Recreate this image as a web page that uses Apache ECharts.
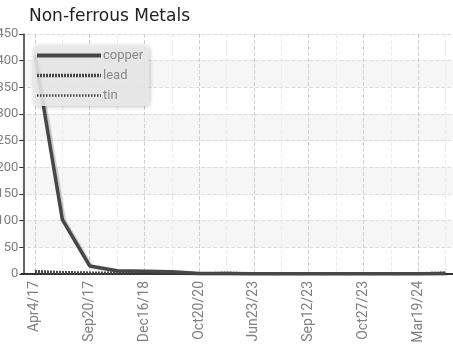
<!DOCTYPE html>
<html>
<head>
<meta charset="utf-8">
<script src="https://cdn.jsdelivr.net/npm/echarts@6/dist/echarts.min.js"></script>
<style>
  html, body { margin: 0; padding: 0; background: #fff; }
  #main { width: 453px; height: 347px; }
</style>
</head>
<body>
<div id="main"></div>
<script>
// dates on the x axis (only every other one is labelled)
var categories = ['Apr4/17', 'Jun12/17', 'Sep20/17', 'Mar3/18', 'Dec16/18', 'Sep9/19',
  'Oct20/20', 'Dec1/22', 'Jun23/23', 'Aug2/23', 'Sep12/23', 'Oct2/23',
  'Oct27/23', 'Jan10/24', 'Mar19/24', 'May29/24'];

var copper = [410, 102, 15, 6, 5, 4, 1, 1, 0.5, 0.5, 0.5, 0.5, 0.5, 0.5, 0.5, 1];
var lead = [5, 3, 2, 2, 2, 2, 1, 1, 0.5, 0.5, 0.5, 0.5, 0.5, 0.5, 0.5, 2];
var tin = [3, 2, 2, 1, 1, 1, 1, 3, 1, 0.5, 0.5, 0.5, 0.5, 0.5, 0.5, 2];

var lineColor = '#474747';
var narrow = 'Roboto, "Liberation Sans Narrow", sans-serif';

var chart = echarts.init(document.getElementById('main'));

var option = {
  animation: false,
  title: {
    text: 'Non-ferrous Metals',
    left: 24,
    top: 3,
    textStyle: {
      color: '#222',
      fontSize: 17,
      fontWeight: 'normal',
      fontFamily: '"DejaVu Sans", sans-serif'
    }
  },
  legend: {
    orient: 'vertical',
    left: 33,
    top: 45,
    z: 10,
    padding: [4, 6, 4, 2],
    itemWidth: 64,
    itemHeight: 10,
    itemGap: 7,
    backgroundColor: 'rgba(234,234,234,0.88)',
    borderRadius: 5,
    shadowColor: 'rgba(0,0,0,0.25)',
    shadowBlur: 4,
    shadowOffsetX: 1,
    shadowOffsetY: 1,
    itemStyle: { opacity: 0 },
    textStyle: { color: '#888', fontSize: 13, fontFamily: narrow, padding: [0, 0, 0, -3] },
    data: [
      { name: 'copper', lineStyle: { width: 4 } },
      { name: 'lead', lineStyle: { width: 3.5 } },
      { name: 'tin', lineStyle: { width: 2.5 } }
    ]
  },
  grid: {
    left: 21.3,
    right: -6.3,
    top: 34,
    bottom: 73,
    containLabel: false,
    outerBoundsMode: 'none'
  },
  xAxis: {
    type: 'category',
    data: categories,
    boundaryGap: true,
    axisLine: { lineStyle: { color: '#333', width: 2 } },
    axisTick: { interval: 1, alignWithLabel: true, length: 4, lineStyle: { color: '#555' } },
    axisLabel: {
      interval: 1,
      rotate: 90,
      margin: 7,
      color: '#808080',
      fontSize: 14,
      fontFamily: narrow
    },
    splitLine: {
      show: true,
      interval: 0,
      alignWithLabel: true,
      lineStyle: { type: 'dashed', color: ['#cfcfcf', '#ececec'] }
    }
  },
  yAxis: {
    type: 'value',
    min: 0,
    max: 450,
    interval: 50,
    offset: -2,
    axisLine: { show: true, lineStyle: { color: '#333', width: 1.5 } },
    axisTick: { show: true, length: 4, lineStyle: { color: '#333' } },
    axisLabel: { margin: 5, color: '#808080', fontSize: 13, fontFamily: narrow },
    splitLine: { lineStyle: { type: 'dashed', color: '#dcdcdc' } },
    splitArea: { show: true, areaStyle: { color: ['rgba(255,255,255,0)', '#f6f6f6'] } }
  },
  series: [
    {
      name: 'copper',
      type: 'line',
      data: copper,
      symbol: 'none',
      color: lineColor,
      lineStyle: {
        color: lineColor, width: 3.5,
        shadowColor: 'rgba(0,0,0,0.2)', shadowBlur: 1, shadowOffsetX: 2, shadowOffsetY: 1
      },
      z: 4
    },
    {
      name: 'lead',
      type: 'line',
      data: lead,
      symbol: 'none',
      color: lineColor,
      lineStyle: { color: lineColor, width: 3, type: [2, 1] },
      z: 3
    },
    {
      name: 'tin',
      type: 'line',
      data: tin,
      symbol: 'none',
      color: lineColor,
      lineStyle: { color: lineColor, width: 2, type: [1.5, 1.5] },
      z: 2
    }
  ]
};

chart.setOption(option);
</script>
</body>
</html>
